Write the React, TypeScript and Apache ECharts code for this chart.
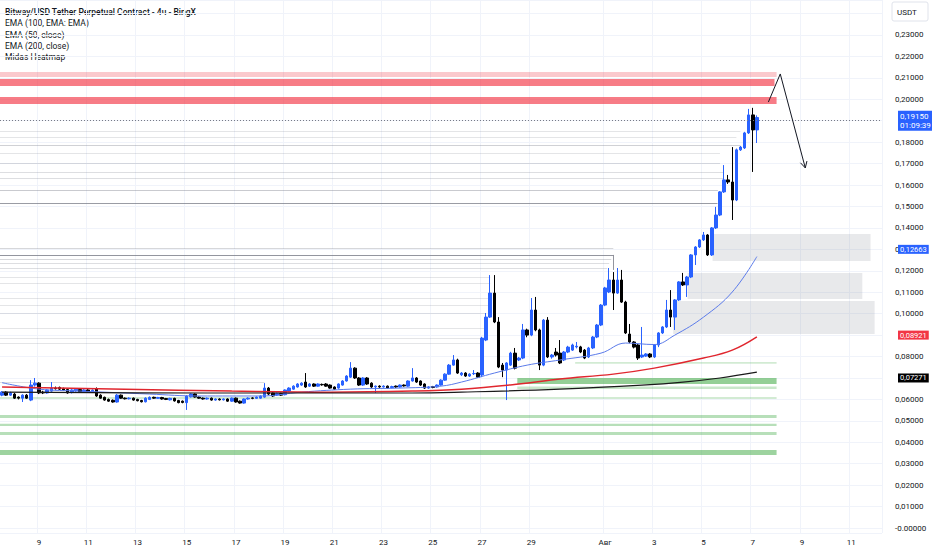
import { useEffect, useRef } from 'react';
import * as echarts from 'echarts';

const FONT = 'Roboto, "Noto Sans", sans-serif';

// ---------- time axis ----------
const START_UTC = Date.UTC(2025, 6, 7, 12);
const SLOT_COUNT = 215;
const STEP_MS = 4 * 3600 * 1000;
const categories: string[] = Array.from({ length: SLOT_COUNT }, (_, i) => {
  const d = new Date(START_UTC + i * STEP_MS);
  const mm = String(d.getUTCMonth() + 1).padStart(2, '0');
  const dd = String(d.getUTCDate()).padStart(2, '0');
  const hh = String(d.getUTCHours()).padStart(2, '0');
  return `${mm}-${dd} ${hh}`;
});
const xTickDates = ['07-09', '07-11', '07-13', '07-15', '07-17', '07-19', '07-21', '07-23', '07-25', '07-27', '07-29', '08-01', '08-03', '08-05', '08-07', '08-09', '08-11'];
const xTickLabels = ['9', '11', '13', '15', '17', '19', '21', '23', '25', '27', '29', 'Авг', '3', '5', '7', '9', '11'];

// ---------- price axis ----------
const Y_MIN = -0.0023;
const Y_MAX = 0.2463;
// levels whose scale label is covered by a price tag in the reference
const coveredLevels = [0.07, 0.09, 0.19];

// ---------- candles [open, close, low, high] ----------
const candles: number[][] = [
  [0.0620, 0.0634, 0.0615, 0.0639], [0.0634, 0.0620, 0.0616, 0.0638], [0.0620, 0.0630, 0.0616, 0.0636], [0.0625, 0.0606, 0.0602, 0.0630], [0.0611, 0.0606, 0.0600, 0.0614],
  [0.0606, 0.0620, 0.0588, 0.0624], [0.0620, 0.0606, 0.0602, 0.0625], [0.0597, 0.0667, 0.0592, 0.0690], [0.0667, 0.0676, 0.0660, 0.0700], [0.0676, 0.0630, 0.0625, 0.0680],
  [0.0634, 0.0630, 0.0625, 0.0640], [0.0630, 0.0644, 0.0627, 0.0648], [0.0639, 0.0653, 0.0636, 0.0681], [0.0653, 0.0650, 0.0646, 0.0660], [0.0656, 0.0648, 0.0644, 0.0660],
  [0.0650, 0.0644, 0.0640, 0.0655], [0.0646, 0.0630, 0.0627, 0.0650], [0.0632, 0.0644, 0.0628, 0.0648], [0.0640, 0.0648, 0.0636, 0.0652], [0.0646, 0.0636, 0.0632, 0.0650],
  [0.0636, 0.0644, 0.0633, 0.0648], [0.0644, 0.0635, 0.0631, 0.0648], [0.0635, 0.0643, 0.0632, 0.0647], [0.0650, 0.0616, 0.0612, 0.0656], [0.0620, 0.0606, 0.0603, 0.0624],
  [0.0610, 0.0597, 0.0594, 0.0613], [0.0600, 0.0592, 0.0589, 0.0604], [0.0596, 0.0588, 0.0585, 0.0600], [0.0588, 0.0620, 0.0585, 0.0625], [0.0620, 0.0606, 0.0603, 0.0623],
  [0.0606, 0.0603, 0.0600, 0.0609], [0.0603, 0.0606, 0.0600, 0.0610], [0.0606, 0.0597, 0.0594, 0.0609], [0.0600, 0.0594, 0.0591, 0.0603], [0.0595, 0.0589, 0.0586, 0.0598],
  [0.0589, 0.0606, 0.0586, 0.0610], [0.0600, 0.0610, 0.0597, 0.0614], [0.0610, 0.0606, 0.0603, 0.0613], [0.0605, 0.0609, 0.0602, 0.0612], [0.0609, 0.0602, 0.0599, 0.0612],
  [0.0604, 0.0600, 0.0597, 0.0607], [0.0598, 0.0605, 0.0595, 0.0608], [0.0605, 0.0593, 0.0590, 0.0608], [0.0595, 0.0585, 0.0582, 0.0598], [0.0592, 0.0586, 0.0582, 0.0595],
  [0.0585, 0.0616, 0.0551, 0.0620], [0.0612, 0.0625, 0.0609, 0.0628], [0.0625, 0.0611, 0.0608, 0.0628], [0.0611, 0.0606, 0.0603, 0.0614], [0.0606, 0.0602, 0.0599, 0.0609],
  [0.0602, 0.0606, 0.0599, 0.0609], [0.0606, 0.0597, 0.0594, 0.0609], [0.0597, 0.0602, 0.0594, 0.0605], [0.0602, 0.0598, 0.0595, 0.0605], [0.0598, 0.0602, 0.0595, 0.0605],
  [0.0602, 0.0592, 0.0589, 0.0605], [0.0592, 0.0606, 0.0589, 0.0609], [0.0606, 0.0588, 0.0585, 0.0609], [0.0592, 0.0583, 0.0580, 0.0595], [0.0583, 0.0602, 0.0580, 0.0605],
  [0.0602, 0.0606, 0.0599, 0.0610], [0.0607, 0.0605, 0.0601, 0.0610], [0.0605, 0.0611, 0.0602, 0.0614], [0.0606, 0.0616, 0.0603, 0.0619], [0.0611, 0.0653, 0.0608, 0.0676],
  [0.0653, 0.0625, 0.0620, 0.0658], [0.0630, 0.0616, 0.0612, 0.0633], [0.0620, 0.0628, 0.0616, 0.0632], [0.0628, 0.0620, 0.0616, 0.0631], [0.0622, 0.0644, 0.0619, 0.0647],
  [0.0639, 0.0653, 0.0636, 0.0657], [0.0648, 0.0662, 0.0645, 0.0666], [0.0658, 0.0672, 0.0655, 0.0676], [0.0667, 0.0676, 0.0663, 0.0680], [0.0681, 0.0658, 0.0654, 0.0723],
  [0.0662, 0.0672, 0.0658, 0.0676], [0.0672, 0.0662, 0.0658, 0.0675], [0.0662, 0.0672, 0.0659, 0.0675], [0.0670, 0.0668, 0.0664, 0.0674], [0.0672, 0.0662, 0.0659, 0.0676],
  [0.0667, 0.0653, 0.0650, 0.0670], [0.0658, 0.0648, 0.0645, 0.0661], [0.0653, 0.0672, 0.0650, 0.0675], [0.0667, 0.0686, 0.0664, 0.0690], [0.0686, 0.0709, 0.0683, 0.0713],
  [0.0704, 0.0746, 0.0700, 0.0774], [0.0746, 0.0700, 0.0696, 0.0750], [0.0700, 0.0667, 0.0663, 0.0704], [0.0667, 0.0700, 0.0663, 0.0704], [0.0700, 0.0672, 0.0668, 0.0704],
  [0.0676, 0.0658, 0.0654, 0.0680], [0.0658, 0.0662, 0.0630, 0.0665], [0.0662, 0.0658, 0.0654, 0.0666], [0.0658, 0.0662, 0.0655, 0.0666], [0.0662, 0.0653, 0.0650, 0.0665],
  [0.0655, 0.0660, 0.0652, 0.0664], [0.0662, 0.0658, 0.0654, 0.0665], [0.0658, 0.0667, 0.0655, 0.0670], [0.0667, 0.0663, 0.0660, 0.0670], [0.0662, 0.0686, 0.0659, 0.0689],
  [0.0686, 0.0700, 0.0683, 0.0746], [0.0700, 0.0681, 0.0677, 0.0704], [0.0686, 0.0667, 0.0663, 0.0689], [0.0672, 0.0653, 0.0649, 0.0675], [0.0653, 0.0658, 0.0650, 0.0662],
  [0.0660, 0.0656, 0.0652, 0.0663], [0.0658, 0.0667, 0.0655, 0.0670], [0.0667, 0.0690, 0.0664, 0.0694], [0.0690, 0.0718, 0.0687, 0.0722], [0.0718, 0.0760, 0.0715, 0.0765],
  [0.0760, 0.0784, 0.0757, 0.0807], [0.0784, 0.0723, 0.0719, 0.0790], [0.0715, 0.0723, 0.0709, 0.0728], [0.0723, 0.0709, 0.0705, 0.0727], [0.0709, 0.0718, 0.0705, 0.0722],
  [0.0720, 0.0721, 0.0714, 0.0737], [0.0723, 0.0704, 0.0700, 0.0727], [0.0714, 0.0886, 0.0704, 0.0892], [0.0877, 0.0984, 0.0872, 0.1003], [0.0984, 0.1096, 0.0980, 0.1180],
  [0.1096, 0.0961, 0.0956, 0.1180], [0.0961, 0.0751, 0.0746, 0.0984], [0.0760, 0.0737, 0.0704, 0.0770], [0.0737, 0.0770, 0.0597, 0.0774], [0.0760, 0.0816, 0.0756, 0.0822],
  [0.0816, 0.0746, 0.0740, 0.0840], [0.0784, 0.0793, 0.0779, 0.0798], [0.0793, 0.0924, 0.0788, 0.0952], [0.0924, 0.0900, 0.0890, 0.0930], [0.0900, 0.1017, 0.0895, 0.1073],
  [0.1017, 0.0924, 0.0918, 0.1078], [0.0924, 0.0760, 0.0737, 0.0930], [0.0760, 0.0970, 0.0755, 0.0975], [0.0970, 0.0798, 0.0793, 0.0984], [0.0798, 0.0807, 0.0790, 0.0812],
  [0.0821, 0.0807, 0.0800, 0.0840], [0.0816, 0.0770, 0.0765, 0.0877], [0.0784, 0.0821, 0.0779, 0.0826], [0.0821, 0.0844, 0.0816, 0.0850], [0.0830, 0.0854, 0.0826, 0.0860],
  [0.0845, 0.0848, 0.0838, 0.0868], [0.0845, 0.0821, 0.0816, 0.0850], [0.0830, 0.0793, 0.0788, 0.0835], [0.0798, 0.0840, 0.0793, 0.0845], [0.0840, 0.0891, 0.0835, 0.0896],
  [0.0891, 0.0947, 0.0886, 0.0952], [0.0947, 0.1040, 0.0942, 0.1045], [0.1040, 0.1120, 0.1035, 0.1125], [0.1101, 0.1157, 0.1096, 0.1213], [0.1157, 0.1096, 0.1017, 0.1194],
  [0.1096, 0.1157, 0.1092, 0.1213], [0.1157, 0.1054, 0.1050, 0.1204], [0.1054, 0.0910, 0.0905, 0.1060], [0.0905, 0.0868, 0.0862, 0.0952], [0.0868, 0.0844, 0.0838, 0.0872],
  [0.0854, 0.0793, 0.0784, 0.0858], [0.0798, 0.0807, 0.0793, 0.0938], [0.0802, 0.0812, 0.0798, 0.0816], [0.0812, 0.0798, 0.0793, 0.0816], [0.0798, 0.0854, 0.0793, 0.0858],
  [0.0854, 0.0910, 0.0844, 0.0914], [0.0910, 0.0938, 0.0905, 0.0942], [0.0938, 0.1017, 0.0933, 0.1064], [0.1017, 0.0984, 0.0938, 0.1110], [0.0984, 0.1064, 0.0924, 0.1068],
  [0.1064, 0.1148, 0.1059, 0.1152], [0.1148, 0.1134, 0.1129, 0.1190], [0.1134, 0.1171, 0.1078, 0.1176], [0.1171, 0.1274, 0.1166, 0.1278], [0.1274, 0.1311, 0.1227, 0.1315],
  [0.1311, 0.1344, 0.1306, 0.1348], [0.1344, 0.1367, 0.1339, 0.1381], [0.1367, 0.1274, 0.1269, 0.1371], [0.1274, 0.1400, 0.1269, 0.1404], [0.1400, 0.1460, 0.1395, 0.1498],
  [0.1460, 0.1568, 0.1455, 0.1572], [0.1568, 0.1624, 0.1563, 0.1693], [0.1624, 0.1614, 0.1605, 0.1647], [0.1614, 0.1530, 0.1437, 0.1777], [0.1530, 0.1764, 0.1525, 0.1770],
  [0.1764, 0.1777, 0.1759, 0.1782], [0.1773, 0.1843, 0.1768, 0.1848], [0.1843, 0.1927, 0.1838, 0.1955], [0.1927, 0.1857, 0.1661, 0.1960], [0.1857, 0.1915, 0.1796, 0.1925],
];

// ---------- EMAs: [candle index, value] ----------
const emaBlue: number[][] = [
  [0, 0.0678], [9, 0.0648], [19, 0.0639], [36, 0.0625], [48, 0.0616], [63, 0.0616], [73, 0.0634], [85, 0.0648], [97, 0.0653], [107, 0.0662],
  [112, 0.0681], [120, 0.0723], [128, 0.0760], [136, 0.0784], [146, 0.0816], [152, 0.0863], [159, 0.0856], [164, 0.0900], [171, 0.0984], [178, 0.1101], [184, 0.12663],
];
const emaRed: number[][] = [
  [0, 0.0658], [30, 0.0648], [56, 0.0639], [80, 0.0634], [100, 0.0639], [112, 0.0648], [126, 0.0672], [136, 0.0695], [149, 0.0718], [159, 0.0746], [171, 0.0793], [178, 0.0830], [184, 0.08921],
];
const emaBlack: number[][] = [
  [0, 0.0634], [50, 0.0630], [100, 0.0630], [112, 0.0634], [136, 0.0648], [156, 0.0667], [166, 0.0681], [175, 0.0700], [184, 0.07271],
];

// ---------- right-scale tags ----------
const lastPrice = 0.1915;
const countdown = '01:09:39';

// ---------- Midas heatmap: zones [low, high, fromIndex, toIndex, strength] ----------
const redZones: number[][] = [
  [0.2104, 0.2127, -0.5, 188.8, 0.27],
  [0.2062, 0.2095, -0.5, 188.3, 0.65],
  [0.1978, 0.2011, -0.5, 188.8, 0.65],
];
const grayZones: number[][] = [
  [0.1246, 0.1372, 173.2, 211.7, 1],
  [0.1068, 0.1190, 167.1, 209.7, 1],
  [0.0905, 0.1059, 163.6, 212.7, 1],
];
const greenZones: number[][] = [
  [0.0766, 0.0774, 139.7, 188.8, 0.25],
  [0.0672, 0.0700, 125.6, 188.8, 0.6],
  [0.0649, 0.0660, 125.6, 188.8, 0.3],
  [0.0602, 0.0611, -0.5, 188.8, 0.25],
  [0.0513, 0.0527, -0.5, 188.8, 0.4],
  [0.0476, 0.0486, -0.5, 188.8, 0.4],
  [0.0434, 0.0448, -0.5, 188.8, 0.4],
  [0.0341, 0.0364, -0.5, 188.8, 0.55],
];
// heatmap levels [price, fromIndex, toIndex, strength]
const grayLevels: number[][] = [
  [0.1852, -0.5, 180, 0.2], [0.1824, -0.5, 179, 0.2], [0.1787, -0.5, 180, 0.35], [0.1750, -0.5, 175, 0.2],
  [0.1703, -0.5, 175, 0.25], [0.1661, -0.5, 176, 0.25], [0.1633, -0.5, 176, 0.25], [0.1577, -0.5, 174.5, 0.4],
  [0.1516, -0.5, 174.4, 0.75], [0.1306, -0.5, 149, 0.3], [0.1274, -0.5, 149, 0.8], [0.1255, -0.5, 148.5, 0.3],
  [0.1236, -0.5, 148, 0.25], [0.1213, -0.5, 147.5, 0.25], [0.1171, -0.5, 119, 0.2], [0.1143, -0.5, 119, 0.2],
  [0.1073, -0.5, 119, 0.2], [0.1040, -0.5, 119, 0.2], [0.1003, -0.5, 118, 0.2], [0.0933, -0.5, 118, 0.2],
  [0.0886, -0.5, 117, 0.2], [0.0863, -0.5, 117, 0.2], [0.0681, -0.5, 64, 0.25],
];
// vertical heatmap connectors [index, top, bottom, strength]
const grayDrops: number[][] = [
  [149, 0.1274, 0.1204, 0.8],
];

// ---------- drawing: arrow path [index, price] ----------
const arrowPath: number[][] = [[186.8, 0.1987], [189.7, 0.2118], [195.8, 0.1680]];

const legendLines = [
  'Bitway/USD Tether Perpetual Contract - 4ч - BingX',
  'EMA (100, EMA: EMA)',
  'EMA (50, close)',
  'EMA (200, close)',
  'Midas Heatmap',
];

const fmtPrice = (v: number) => v.toFixed(5).replace('.', ',');

export default function App() {
  const ref = useRef<HTMLDivElement>(null);
  useEffect(() => {
    if (!ref.current) return;
    const chart = echarts.init(ref.current, undefined, { renderer: 'svg' });

    const tickMap: Record<string, string> = {};
    xTickDates.forEach((d, i) => { tickMap[`${d} 00`] = xTickLabels[i]; });
    const isTick = (_i: number, v: string) => tickMap[v] !== undefined;

    const zoneData: number[][] = [
      ...redZones.map((z) => [z[2], z[3], z[0], z[1], 0, z[4]]),
      ...grayZones.map((z) => [z[2], z[3], z[0], z[1], 1, z[4]]),
      ...greenZones.map((z) => [z[2], z[3], z[0], z[1], 2, z[4]]),
    ];
    const zoneFill = (kind: number, s: number) => {
      if (kind === 0) return `rgba(242,54,69,${s})`;
      if (kind === 1) return `rgba(120,123,134,${0.17 * s})`;
      return `rgba(76,175,80,${s})`;
    };

    const tagLabel = (text: string, bg: string) => ({
      show: true,
      position: 'end',
      formatter: text,
      backgroundColor: bg,
      color: '#ffffff',
      fontSize: 7.5,
      fontFamily: FONT,
      lineHeight: 8,
      padding: [1, 2, 0, 2],
      distance: 16,
    });
    const hiddenLine = { color: 'rgba(0,0,0,0)', width: 0 };

    const option: any = {
      animation: false,
      backgroundColor: '#ffffff',
      textStyle: { fontFamily: FONT },
      grid: { left: 0, right: 50, top: 0, bottom: 17, containLabel: false },
      xAxis: [
        {
          type: 'category',
          data: categories,
          boundaryGap: true,
          axisLine: { show: false },
          axisTick: { show: false },
          axisLabel: {
            interval: isTick,
            formatter: (v: string) => tickMap[v] ?? '',
            color: '#131722',
            fontSize: 8,
            fontFamily: FONT,
            margin: 5,
          },
          splitLine: { show: true, interval: isTick, lineStyle: { color: '#F0F3FA', width: 1 } },
        },
        { type: 'value', min: -0.5, max: SLOT_COUNT - 0.5, show: false },
      ],
      yAxis: {
        type: 'value',
        position: 'right',
        min: Y_MIN,
        max: Y_MAX,
        splitNumber: 25,
        axisLine: { show: false },
        axisTick: { show: false },
        axisLabel: {
          showMinLabel: false,
          showMaxLabel: false,
          color: '#131722',
          fontSize: 8,
          lineHeight: 8,
          fontFamily: FONT,
          margin: 13,
          formatter: (v: number) => {
            const r = Math.round(v * 100) / 100;
            if (Math.abs(v - r) > 1e-6 || r < 0 || r > 0.235) return '';
            if (coveredLevels.some((c) => Math.abs(c - r) < 1e-6)) return '';
            return r === 0 ? '-0.00000' : fmtPrice(r);
          },
        },
        splitLine: { show: true, lineStyle: { color: '#F0F3FA', width: 1 } },
      },
      graphic: [
        ...legendLines.map((t, i) => ({
          type: 'text',
          x: 5,
          y: 12 + i * 11.3,
          style: {
            text: t,
            fontSize: 8.5,
            fontFamily: FONT,
            fontWeight: i === 0 ? 500 : 'normal',
            fill: '#131722',
            verticalAlign: 'middle',
          },
        })),
        {
          type: 'rect',
          shape: { x: 892, y: 2, width: 36, height: 19, r: 2 },
          style: { fill: '#ffffff', stroke: '#E0E3EB', lineWidth: 1 },
        },
        {
          type: 'text',
          x: 897,
          y: 12,
          style: { text: 'USDT', fontSize: 8, fontFamily: FONT, fill: '#131722', verticalAlign: 'middle' },
        },
      ],
      series: [
        {
          type: 'custom',
          name: 'zones',
          xAxisIndex: 1,
          z: 1,
          silent: true,
          encode: { x: 0, y: 2 },
          data: zoneData,
          renderItem: (_p: any, api: any) => {
            const a = api.coord([api.value(0), api.value(3)]);
            const b = api.coord([api.value(1), api.value(2)]);
            return {
              type: 'rect',
              shape: { x: a[0], y: a[1], width: b[0] - a[0], height: Math.max(1, b[1] - a[1]) },
              style: { fill: zoneFill(api.value(4), api.value(5)) },
            };
          },
        },
        {
          type: 'custom',
          name: 'levels',
          xAxisIndex: 1,
          z: 1,
          silent: true,
          encode: { x: 1, y: 0 },
          data: grayLevels,
          renderItem: (_p: any, api: any) => {
            const a = api.coord([api.value(1), api.value(0)]);
            const b = api.coord([api.value(2), api.value(0)]);
            return {
              type: 'line',
              shape: { x1: a[0], y1: Math.round(a[1]) + 0.5, x2: b[0], y2: Math.round(b[1]) + 0.5 },
              style: { stroke: `rgba(120,123,134,${api.value(3)})`, lineWidth: 1 },
            };
          },
        },
        {
          type: 'custom',
          name: 'drops',
          xAxisIndex: 1,
          z: 1,
          silent: true,
          encode: { x: 0, y: 1 },
          data: grayDrops,
          renderItem: (_p: any, api: any) => {
            const a = api.coord([api.value(0), api.value(1)]);
            const b = api.coord([api.value(0), api.value(2)]);
            return {
              type: 'line',
              shape: { x1: Math.round(a[0]) + 0.5, y1: a[1], x2: Math.round(b[0]) + 0.5, y2: b[1] },
              style: { stroke: `rgba(120,123,134,${api.value(3)})`, lineWidth: 1 },
            };
          },
        },
        {
          type: 'candlestick',
          name: 'Bitway/USDT',
          xAxisIndex: 0,
          z: 3,
          data: candles,
          barWidth: 3,
          itemStyle: {
            color: '#2962FF',
            color0: '#000000',
            borderColor: '#2962FF',
            borderColor0: '#000000',
            borderWidth: 1,
          },
          markLine: {
            silent: true,
            symbol: ['none', 'none'],
            animation: false,
            data: [
              {
                yAxis: lastPrice,
                lineStyle: { color: '#787B86', type: [1, 2], width: 1 },
                label: { ...tagLabel(`${fmtPrice(lastPrice)}\n${countdown}`, '#2962FF'), fontSize: 8, lineHeight: 9, padding: [1, 2, 1, 2] },
              },
              {
                yAxis: emaBlue[emaBlue.length - 1][1],
                lineStyle: hiddenLine,
                label: tagLabel(fmtPrice(emaBlue[emaBlue.length - 1][1]), '#2962FF'),
              },
              {
                yAxis: emaRed[emaRed.length - 1][1],
                lineStyle: hiddenLine,
                label: tagLabel(fmtPrice(emaRed[emaRed.length - 1][1]), '#F23645'),
              },
              {
                yAxis: emaBlack[emaBlack.length - 1][1],
                lineStyle: hiddenLine,
                label: tagLabel(fmtPrice(emaBlack[emaBlack.length - 1][1]), '#000000'),
              },
            ],
          },
        },
        {
          type: 'line',
          name: 'EMA 50',
          xAxisIndex: 1,
          z: 4,
          data: emaBlue,
          smooth: 0.4,
          showSymbol: false,
          silent: true,
          lineStyle: { color: '#5B7BEA', width: 1 },
        },
        {
          type: 'line',
          name: 'EMA 200',
          xAxisIndex: 1,
          z: 4,
          data: emaRed,
          smooth: 0.4,
          showSymbol: false,
          silent: true,
          lineStyle: { color: '#E0262E', width: 1.5 },
        },
        {
          type: 'line',
          name: 'EMA 100',
          xAxisIndex: 1,
          z: 4,
          data: emaBlack,
          smooth: 0.4,
          showSymbol: false,
          silent: true,
          lineStyle: { color: '#1a1a1a', width: 1.2 },
        },
        {
          type: 'custom',
          name: 'arrow',
          xAxisIndex: 1,
          z: 5,
          silent: true,
          encode: { x: 0, y: 1 },
          data: [arrowPath[arrowPath.length - 1]],
          renderItem: (_p: any, api: any) => {
            const pts = arrowPath.map((p) => api.coord(p));
            const n = pts.length;
            const [ex, ey] = pts[n - 1];
            const [sx, sy] = pts[n - 2];
            const ang = Math.atan2(ey - sy, ex - sx);
            const len = 7;
            const h1 = [ex - len * Math.cos(ang - 0.5), ey - len * Math.sin(ang - 0.5)];
            const h2 = [ex - len * Math.cos(ang + 0.5), ey - len * Math.sin(ang + 0.5)];
            return {
              type: 'group',
              children: [
                { type: 'polyline', shape: { points: pts }, style: { stroke: '#131722', lineWidth: 1, fill: 'none' } },
                { type: 'polyline', shape: { points: [h1, [ex, ey], h2] }, style: { stroke: '#131722', lineWidth: 1, fill: 'none' } },
              ],
            };
          },
        },
      ],
    };
    chart.setOption(option);
    return () => chart.dispose();
  }, []);
  return <div ref={ref} style={{ position: 'fixed', left: 0, top: 0, width: 932, height: 550 }} />;
}
